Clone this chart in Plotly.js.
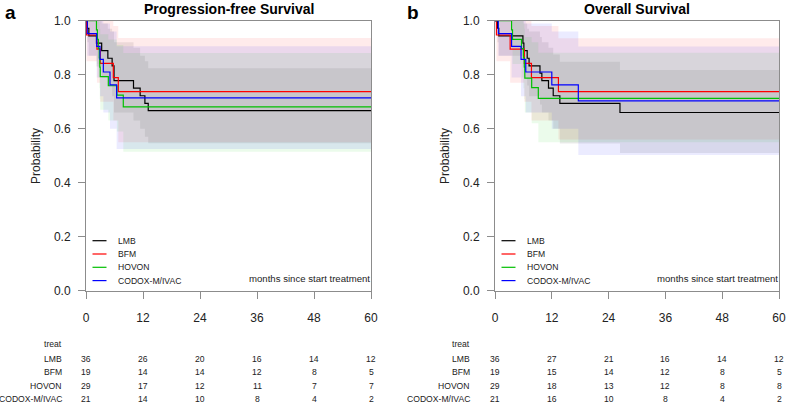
<!DOCTYPE html>
<html>
<head>
<meta charset="utf-8">
<script src="https://cdn.plot.ly/plotly-3.0.1.min.js"></script>
<style>html,body{margin:0;padding:0;background:#fff;}#chart{width:787px;height:405px;}</style>
</head>
<body>
<div id="chart"></div>
<script>
// ---------- DATA ----------
const groups = ["LMB", "BFM", "HOVON", "CODOX-M/IVAC"];

// Progression-free survival (panel a)
const pfs_lmb_t  = [0, 0.3, 0.6, 2.2, 3.3, 4.6, 5.5, 5.9, 10.0, 11.4, 12.4, 13.1, 60];
const pfs_lmb_s  = [1, 0.972, 0.944, 0.917, 0.889, 0.861, 0.833, 0.778, 0.750, 0.722, 0.694, 0.667, 0.667];
const pfs_lmb_lo = [1, 0.92, 0.87, 0.83, 0.79, 0.76, 0.72, 0.66, 0.63, 0.60, 0.57, 0.546, 0.546];
const pfs_lmb_hi = [1, 1, 1, 1, 0.99, 0.97, 0.96, 0.92, 0.90, 0.87, 0.85, 0.824, 0.824];

const pfs_bfm_t  = [0, 0.1, 2.3, 3.0, 5.75, 6.8, 60];
const pfs_bfm_s  = [1, 0.947, 0.895, 0.842, 0.789, 0.737, 0.737];
const pfs_bfm_lo = [1, 0.85, 0.77, 0.70, 0.63, 0.55, 0.55];
const pfs_bfm_hi = [1, 1, 1, 1, 0.98, 0.936, 0.936];

const pfs_hov_t  = [0, 2.2, 2.4, 2.6, 2.8, 2.9, 3.0, 4.7, 6.5, 7.85, 60];
const pfs_hov_s  = [1, 0.966, 0.931, 0.897, 0.862, 0.828, 0.793, 0.759, 0.724, 0.681, 0.681];
const pfs_hov_lo = [1, 0.90, 0.84, 0.79, 0.75, 0.71, 0.67, 0.63, 0.59, 0.515, 0.515];
const pfs_hov_hi = [1, 1, 1, 1, 0.99, 0.97, 0.95, 0.93, 0.91, 0.88, 0.88];

const pfs_cod_t  = [0, 0.27, 2.25, 2.95, 3.65, 5.05, 6.45, 60];
const pfs_cod_s  = [1, 0.952, 0.905, 0.857, 0.810, 0.762, 0.714, 0.714];
const pfs_cod_lo = [1, 0.87, 0.79, 0.72, 0.66, 0.60, 0.525, 0.525];
const pfs_cod_hi = [1, 1, 1, 1, 0.99, 0.96, 0.905, 0.905];

// Overall survival (panel b)
const os_lmb_t  = [0, 0.5, 0.8, 5.9, 6.1, 6.8, 7.2, 9.5, 9.9, 11.3, 12.3, 13.7, 26.4, 60];
const os_lmb_s  = [1, 0.972, 0.944, 0.917, 0.889, 0.861, 0.833, 0.806, 0.778, 0.750, 0.722, 0.694, 0.660, 0.660];
const os_lmb_lo = [1, 0.92, 0.87, 0.83, 0.79, 0.76, 0.72, 0.69, 0.66, 0.63, 0.60, 0.545, 0.51, 0.51];
const os_lmb_hi = [1, 1, 1, 1, 0.99, 0.97, 0.96, 0.94, 0.92, 0.90, 0.875, 0.848, 0.817, 0.817];

const os_bfm_t  = [0, 0.3, 3.2, 6.2, 7.7, 13.4, 60];
const os_bfm_s  = [1, 0.947, 0.895, 0.842, 0.789, 0.737, 0.737];
const os_bfm_lo = [1, 0.85, 0.77, 0.70, 0.63, 0.56, 0.56];
const os_bfm_hi = [1, 1, 1, 1, 0.98, 0.935, 0.935];

const os_hov_t  = [0, 3.5, 3.7, 5.6, 6.0, 6.2, 6.3, 7.75, 9.15, 60];
const os_hov_s  = [1, 0.966, 0.931, 0.897, 0.862, 0.828, 0.787, 0.752, 0.712, 0.712];
const os_hov_lo = [1, 0.90, 0.84, 0.79, 0.75, 0.71, 0.66, 0.62, 0.55, 0.55];
const os_hov_hi = [1, 1, 1, 1, 0.99, 0.97, 0.94, 0.92, 0.881, 0.881];

const os_cod_t  = [0, 0.7, 3.5, 5.5, 6.5, 12.0, 17.6, 60];
const os_cod_s  = [1, 0.952, 0.905, 0.857, 0.810, 0.762, 0.703, 0.703];
const os_cod_lo = [1, 0.87, 0.79, 0.72, 0.66, 0.60, 0.503, 0.503];
const os_cod_hi = [1, 1, 1, 1, 0.99, 0.96, 0.904, 0.904];

// Numbers at risk
const risk_times = [0, 12, 24, 36, 48, 60];
const pfs_risk_lmb = [36, 26, 20, 16, 14, 12];
const pfs_risk_bfm = [19, 14, 14, 12, 8, 5];
const pfs_risk_hov = [29, 17, 12, 11, 7, 7];
const pfs_risk_cod = [21, 14, 10, 8, 4, 2];
const os_risk_lmb = [36, 27, 21, 16, 14, 12];
const os_risk_bfm = [19, 15, 14, 12, 8, 5];
const os_risk_hov = [29, 18, 13, 12, 8, 8];
const os_risk_cod = [21, 16, 10, 8, 4, 2];

const x_ticks = [0, 12, 24, 36, 48, 60];
const y_ticks = [0, 0.2, 0.4, 0.6, 0.8, 1.0];

// ---------- STYLE ----------
const W = 787, H = 405;
const lineColors = ["#000000", "#ff0000", "#00c000", "#0000ff"];
const bandColors = ["rgba(0,0,0,0.08)", "rgba(255,0,0,0.08)", "rgba(0,200,0,0.08)", "rgba(0,0,255,0.08)"];
const FONT = "Liberation Sans, Arial, sans-serif";
const px = p => p / W;
const py = p => 1 - p / H;

const panels = [
  {xa: "x", ya: "y", curves: [
    [pfs_lmb_t, pfs_lmb_s, pfs_lmb_lo, pfs_lmb_hi],
    [pfs_bfm_t, pfs_bfm_s, pfs_bfm_lo, pfs_bfm_hi],
    [pfs_hov_t, pfs_hov_s, pfs_hov_lo, pfs_hov_hi],
    [pfs_cod_t, pfs_cod_s, pfs_cod_lo, pfs_cod_hi]],
   risk: [pfs_risk_lmb, pfs_risk_bfm, pfs_risk_hov, pfs_risk_cod]},
  {xa: "x2", ya: "y2", curves: [
    [os_lmb_t, os_lmb_s, os_lmb_lo, os_lmb_hi],
    [os_bfm_t, os_bfm_s, os_bfm_lo, os_bfm_hi],
    [os_hov_t, os_hov_s, os_hov_lo, os_hov_hi],
    [os_cod_t, os_cod_s, os_cod_lo, os_cod_hi]],
   risk: [os_risk_lmb, os_risk_bfm, os_risk_hov, os_risk_cod]}
];

const traces = [];
panels.forEach(p => {
  p.curves.forEach((c, i) => {
    traces.push({x: c[0], y: c[2], xaxis: p.xa, yaxis: p.ya, mode: "lines",
      line: {shape: "hv", width: 0, color: "rgba(0,0,0,0)"}, hoverinfo: "skip", showlegend: false});
    traces.push({x: c[0], y: c[3], xaxis: p.xa, yaxis: p.ya, mode: "lines", fill: "tonexty",
      fillcolor: bandColors[i],
      line: {shape: "hv", width: 0, color: "rgba(0,0,0,0)"}, hoverinfo: "skip", showlegend: false});
  });
  p.curves.forEach((c, i) => {
    traces.push({x: c[0], y: c[1], xaxis: p.xa, yaxis: p.ya, mode: "lines",
      line: {shape: "hv", width: 1.2, color: lineColors[i]}, name: groups[i], showlegend: false});
  });
});

// geometry (pixels)
const plotL = [86, 495], plotR = [371, 779];
const plotTop = 20.7, plotBot = 290.7;

function xaxisDef(k) {
  return {domain: [px(plotL[k]), px(plotR[k])], range: [0, 60], tickvals: x_ticks, ticktext: x_ticks.map(String),
    showgrid: false, zeroline: false, showline: true, mirror: true, linecolor: "#8c8c8c", linewidth: 1,
    ticks: "outside", ticklen: 7, tickcolor: "#8c8c8c", ticklabelstandoff: 9,
    tickfont: {family: FONT, size: 12, color: "#222"}, anchor: k === 0 ? "y" : "y2", fixedrange: true};
}
function yaxisDef(k) {
  return {domain: [py(plotBot), py(plotTop)], range: [0, 1], tickvals: y_ticks, ticktext: y_ticks.map(v => v.toFixed(1)),
    showgrid: false, zeroline: false, showline: true, mirror: true, linecolor: "#8c8c8c", linewidth: 1,
    ticks: "outside", ticklen: 7, tickcolor: "#8c8c8c", ticklabelstandoff: 5,
    tickfont: {family: FONT, size: 12, color: "#222"}, anchor: k === 0 ? "x" : "x2", fixedrange: true};
}

const annotations = [];
const shapes = [];
const titles = ["Progression-free Survival", "Overall Survival"];
const letters = ["a", "b"];
const letterX = [10, 413];
const ylabX = [36, 445];
const labelRight = [64, 472];
const rowY = [344, 358.7, 372.3, 386, 399.3];

panels.forEach((p, k) => {
  annotations.push({xref: "paper", yref: "paper", x: px((plotL[k] + plotR[k]) / 2), y: py(9), text: "<b>" + titles[k] + "</b>",
    showarrow: false, xanchor: "center", yanchor: "middle", font: {family: FONT, size: 14, color: "#000"}});
  annotations.push({xref: "paper", yref: "paper", x: px(letterX[k]), y: py(12), text: "<b>" + letters[k] + "</b>",
    showarrow: false, xanchor: "center", yanchor: "middle", font: {family: FONT, size: 19, color: "#000"}});
  annotations.push({xref: "paper", yref: "paper", x: px(ylabX[k]), y: py(156), text: "Probability", textangle: -90,
    showarrow: false, xanchor: "center", yanchor: "middle", font: {family: FONT, size: 12, color: "#222"}});
  annotations.push({xref: "paper", yref: "paper", x: px(plotR[k] + 1), y: py(278), text: "months since start treatment",
    showarrow: false, xanchor: "right", yanchor: "middle", font: {family: FONT, size: 9.6, color: "#222"}});
  // legend
  groups.forEach((g, i) => {
    const yy = 240.7 + i * 13.3;
    shapes.push({type: "line", xref: "paper", yref: "paper", x0: px(plotL[k] + 6.5), x1: px(plotL[k] + 20.5),
      y0: py(yy), y1: py(yy), line: {color: lineColors[i], width: 1.2}});
    annotations.push({xref: "paper", yref: "paper", x: px(plotL[k] + 29.5), y: py(yy), text: g, showarrow: false,
      xanchor: "left", yanchor: "middle", font: {family: FONT, size: 8.6, color: "#222"}});
  });
  // risk table
  annotations.push({xref: "paper", yref: "paper", x: px(labelRight[k]), y: py(rowY[0]), text: "treat", showarrow: false,
    xanchor: "right", yanchor: "middle", font: {family: FONT, size: 8.6, color: "#222"}});
  groups.forEach((g, i) => {
    annotations.push({xref: "paper", yref: "paper", x: px(labelRight[k]), y: py(rowY[i + 1]), text: g, showarrow: false,
      xanchor: "right", yanchor: "middle", font: {family: FONT, size: 8.6, color: "#222"}});
    p.risk[i].forEach((v, j) => {
      annotations.push({xref: p.xa, yref: "paper", x: risk_times[j], y: py(rowY[i + 1]), text: String(v), showarrow: false,
        xanchor: "center", yanchor: "middle", font: {family: FONT, size: 8.6, color: "#222"}});
    });
  });
});

const layout = {
  width: W, height: H, margin: {l: 0, r: 0, t: 0, b: 0}, paper_bgcolor: "#fff", plot_bgcolor: "rgba(0,0,0,0)",
  showlegend: false,
  xaxis: xaxisDef(0), yaxis: yaxisDef(0), xaxis2: xaxisDef(1), yaxis2: yaxisDef(1),
  annotations: annotations, shapes: shapes
};

Plotly.newPlot("chart", traces, layout, {displayModeBar: false, staticPlot: true});
</script>
</body>
</html>
